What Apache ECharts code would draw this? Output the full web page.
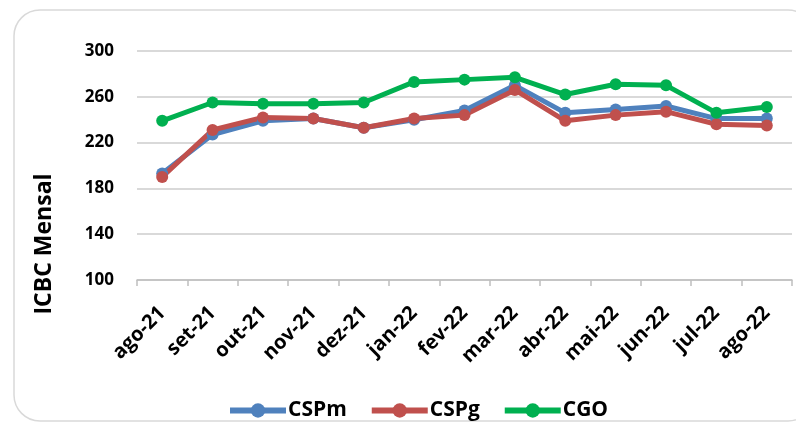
<!DOCTYPE html>
<html><head><meta charset="utf-8">
<script src="https://cdn.jsdelivr.net/npm/echarts@6/dist/echarts.min.js"></script>
<style>html,body{margin:0;padding:0;background:#fff}#c{width:796px;height:424px}</style>
</head><body><div id="c"></div>
<script>
const categories = ['ago-21','set-21','out-21','nov-21','dez-21','jan-22','fev-22','mar-22','abr-22','mai-22','jun-22','jul-22','ago-22'];
const cspm = [193, 227, 239, 241, 233, 240, 248, 270, 246, 249, 252, 241, 241];
const cspg = [190, 231, 242, 241, 233, 241, 244, 266, 239, 244, 247, 236, 235];
const cgo  = [239, 255, 254, 254, 255, 273, 275, 277, 262, 271, 270, 246, 251];
const yTicks = {min: 100, max: 300, interval: 40};

const FONT = '"Open Sans"';
const chart = echarts.init(document.getElementById('c'));
function ser(name, data, color) {
  return {name, type: 'line', data, symbol: 'circle', symbolSize: 12,
    lineStyle: {width: 5, color}, itemStyle: {color}, emphasis: {disabled: true}};
}
chart.setOption({
  animation: false,
  textStyle: {fontFamily: FONT},
  grid: {left: 137, right: 4, top: 51, bottom: 144},
  graphic: [
    {type: 'rect', shape: {x: 14, y: 10, width: 800, height: 411, r: 26},
     style: {fill: 'none', stroke: '#d9d9d9', lineWidth: 1.5}, silent: true},
    {type: 'text', x: 44, y: 244, rotation: Math.PI / 2,
     style: {text: 'ICBC Mensal', font: 'bold 23px ' + FONT, fill: '#000', align: 'center', verticalAlign: 'middle'}}
  ],
  legend: {top: 395, left: 222, itemWidth: 56, itemHeight: 18, itemGap: 22,
    lineStyle: {width: 6},
    textStyle: {fontSize: 21, fontWeight: 'bold', color: '#000', fontFamily: FONT, padding: [0, 0, 0, -3]},
    data: ['CSPm', 'CSPg', 'CGO']},
  xAxis: {type: 'category', data: categories, boundaryGap: true,
    axisLine: {lineStyle: {color: '#bfbfbf', width: 1.5}},
    axisTick: {show: true, interval: 0, length: 6, lineStyle: {color: '#bfbfbf', width: 1.5}},
    axisLabel: {rotate: 45, interval: 0, fontSize: 20, fontWeight: 'bold', color: '#000', margin: 30, fontFamily: FONT}},
  yAxis: {type: 'value', min: yTicks.min, max: yTicks.max, interval: yTicks.interval,
    axisLine: {show: false}, axisTick: {show: false},
    splitLine: {lineStyle: {color: '#d9d9d9', width: 2}},
    axisLabel: {fontSize: 17, fontWeight: 'bold', color: '#000', margin: 23, fontFamily: FONT}},
  series: [ser('CSPm', cspm, '#4F81BD'), ser('CSPg', cspg, '#C0504D'), ser('CGO', cgo, '#00B050')]
});
</script></body></html>
